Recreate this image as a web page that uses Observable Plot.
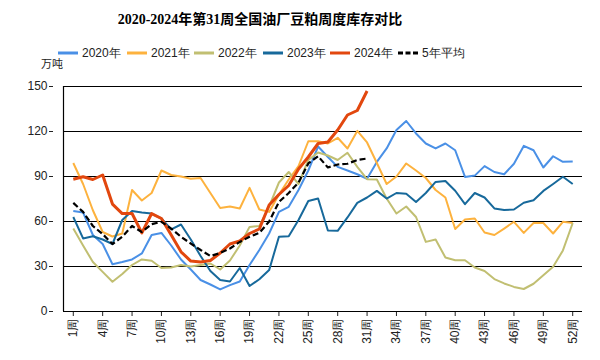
<!DOCTYPE html>
<html><head><meta charset="utf-8">
<script src="https://cdn.jsdelivr.net/npm/d3@7"></script>
<script src="https://cdn.jsdelivr.net/npm/@observablehq/plot@0.6"></script>
<style>
body{margin:0;background:#fff;}
#wrap{position:relative;width:600px;height:360px;overflow:hidden;font-family:"Liberation Sans Narrow","Liberation Sans",Arial,sans-serif;background:#fff;}
#title{position:absolute;left:0;top:11px;width:520px;text-align:center;font:bold 14px/18px "Liberation Serif","Noto Sans CJK SC",serif;color:#000;}
.leg{position:absolute;top:45px;height:16px;line-height:16px;display:flex;align-items:center;font-size:12px;color:#222;white-space:nowrap;}
.leg svg{margin-right:4px;}
#unit{position:absolute;left:41px;top:56px;font:11px/14px "Noto Sans CJK SC",sans-serif;color:#222;z-index:2;}
#chart{position:absolute;left:0;top:56px;}
</style></head>
<body><div id="wrap">
<div id="title">2020-2024年第31周全国油厂豆粕周度库存对比</div>
<div id="legend"></div>
<div id="chart"></div>
<div id="unit">万吨</div>
</div>
<script>
const weeks = Array.from({length: 52}, (_, i) => i + 1);
const xTicks = [1,4,7,10,13,16,19,22,25,28,31,34,37,40,43,46,49,52];
const yTicks = [0,30,60,90,120,150];

const y2020 = [67,66,51,45,31.5,33,34.7,38.7,51,52.4,44,34.7,28,21,18,14.7,17.6,20,31,41,52,66.4,69.8,81,94,110,103,96.4,94,91.5,88.5,99.7,108.7,121,127,118.7,112,108.7,112,107.5,89.7,90.6,96.9,93,91.5,98.5,110.4,107.5,96,103.5,99.8,100];
const y2021 = [99,85,67.5,53,50,52,81,74,79,94,91,90,88.5,89,79,69,70,68.7,82.4,68,66.4,78,88,97,113.5,113.5,112,115.8,108.7,120.4,112.7,99,85,90,98.7,94,89,81,76,55,61.3,62,52.7,51,55.3,59.8,52.4,59,59,52,59.8,59];
const y2022 = [55.3,44,33,26.4,19.8,25,31,34.7,33.8,29,29.3,31,30,31,32,28,34,44,56.4,57,70,86,93,85,101,106,104,101,105.8,96.4,88.2,88,75.3,65.3,70,63,46.4,48,36,34.2,34.2,29.3,27,21.6,18.7,16.4,15,18.5,24.2,29.8,40.7,59];
const y2023 = [63,48.7,50.2,48,45,61,67,66,65.3,62,54.7,58,48,37,27,21,20,29,17,21.5,27.6,49.8,50.2,61,73.7,75.3,54,53.8,62.7,72.4,76,80.4,75.3,79,78.5,73,79,86.4,87,80.5,71.6,79,76,68.7,67.6,68,72.5,74.2,80.4,85,89.8,85];
const y2024 = [88.2,89.8,88,91,71.6,65.3,65.3,52.4,65.3,62,51,39.8,33.6,33,34,39,45,47,52,55,71,78,84,95,103,112,113,121,131,134,147];
const yAvg = [72.4,66.4,57,51.6,45,49.8,57,53,58.2,59.8,55.3,49.8,45.3,41,37,39,42,46.4,49.8,52.4,60,73,79,86,98.7,103.5,96,98,98.5,101,102];

const series = [
  {name: "2020年", values: y2020, color: "#4a90e6", width: 2, dash: null, lx: 58},
  {name: "2021年", values: y2021, color: "#fdb23e", width: 2, dash: null, lx: 127},
  {name: "2022年", values: y2022, color: "#c1bf72", width: 2, dash: null, lx: 194},
  {name: "2023年", values: y2023, color: "#17699b", width: 2, dash: null, lx: 263},
  {name: "2024年", values: y2024, color: "#e2470e", width: 3, dash: null, lx: 330},
  {name: "5年平均", values: yAvg, color: "#000000", width: 2.2, dash: "6,3", lx: 398}
];

const rows = series.flatMap(s => s.values.map((v, i) => ({week: weeks[i], value: v, series: s.name})));

// legend
const legend = document.getElementById("legend");
for (const s of series) {
  const d = document.createElement("div");
  d.className = "leg";
  d.style.left = s.lx + "px";
  d.innerHTML = `<svg width="20" height="6"><line x1="0" x2="20" y1="3" y2="3" stroke="${s.color}" stroke-width="3" ${s.dash ? `stroke-dasharray="5,2.5"` : ""}/></svg><span>${s.name}</span>`;
  legend.appendChild(d);
}

const lineMarks = series.map(s => Plot.line(rows.filter(r => r.series === s.name), {
  x: "week", y: "value", stroke: s.color, strokeWidth: s.width,
  strokeDasharray: s.dash || undefined, strokeLinejoin: "round", strokeLinecap: "butt"
}));

const chart = Plot.plot({
  width: 600, height: 304,
  marginTop: 30, marginLeft: 63, marginRight: 18, marginBottom: 49,
  style: {fontFamily: '"Liberation Sans Narrow","Liberation Sans",Arial,sans-serif', fontSize: "12px", color: "#222", background: "transparent"},
  x: {domain: [0, 53]},
  y: {domain: [0, 150]},
  marks: [
    Plot.gridY(yTicks.filter(d => d > 0), {stroke: "#000", strokeOpacity: 1, strokeWidth: 1}),
    Plot.axisY(yTicks, {tickSize: 4, dx: -10, tickPadding: 2, label: null, fontSize: 12}),
    Plot.axisX(xTicks, {tickFormat: d => d + "周", tickRotate: -90, tickSize: 5, tickPadding: 2, label: null, fontSize: 12}),
    Plot.ruleX([0], {stroke: "#000", strokeWidth: 1.2}),
    Plot.ruleY([0], {stroke: "#000", strokeWidth: 1.2}),
    ...lineMarks
  ]
});
document.getElementById("chart").appendChild(chart);
</script>
</body></html>
